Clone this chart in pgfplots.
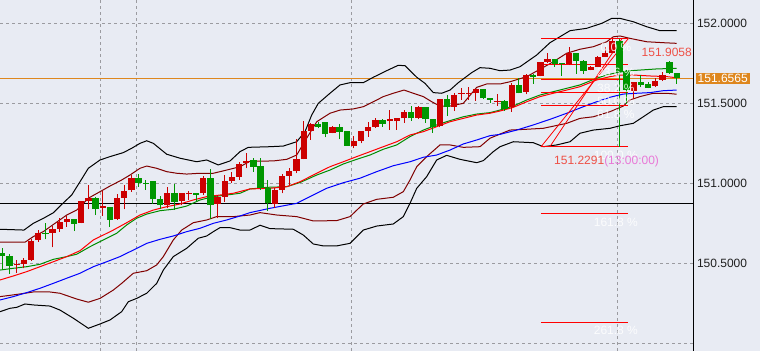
\documentclass[border=0pt]{standalone}
\usepackage{fontspec}
\setmainfont{Liberation Sans}
\usepackage{pgfplots}
\usepackage{pgfplotstable}
\pgfplotsset{compat=1.18}
\definecolor{bg}{RGB}{232,235,243}
\definecolor{cred}{RGB}{204,0,0}
\definecolor{cgreen}{RGB}{0,150,0}
\definecolor{maroon}{RGB}{128,0,0}
\definecolor{magreen}{RGB}{0,140,0}
\definecolor{orng}{RGB}{222,135,30}
\definecolor{gridc}{RGB}{155,155,160}
\definecolor{salmon}{RGB}{238,80,70}
\definecolor{pinkv}{RGB}{232,120,215}
\newcommand\lbl{\fontsize{12bp}{14bp}\selectfont}

% red (rising) candles: x open high low close
\pgfplotstableread{
x o h l c
2 150.4888 150.5219 150.4425 150.4950
3 150.4988 150.5325 150.4700 150.5219
4 150.5219 150.6513 150.5156 150.6406
5 150.6469 150.7075 150.6363 150.6906
7 150.6925 150.7344 150.6013 150.7156
8 150.7156 150.7825 150.6988 150.7613
9 150.7594 150.7969 150.7300 150.7763
11 150.7550 150.8925 150.7513 150.8888
12 150.8925 150.9906 150.8388 150.9075
14 150.8488 150.9531 150.7988 150.8613
16 150.7763 150.9344 150.7719 150.9075
17 150.9113 150.9906 150.8388 150.9550
18 150.9575 151.0531 150.9488 151.0325
23 150.8656 150.9763 150.8450 150.9388
25 150.8925 150.9400 150.8656 150.9388
26 150.9325 150.9531 150.8969 150.9388
28 150.9388 151.0469 150.9281 151.0363
30 150.8700 150.9281 150.7825 150.9175
31 150.9175 151.0531 150.8863 151.0156
32 151.0156 151.0738 151.0050 151.0425
33 151.0425 151.1363 151.0219 151.1200
34 151.1263 151.1888 151.0950 151.1406
38 150.8719 150.9719 150.8469 150.9594
39 150.9594 151.0594 150.9388 151.0469
40 151.0469 151.0950 150.9906 151.0781
41 151.0800 151.2763 151.0638 151.1513
42 151.1531 151.3925 151.1513 151.3281
43 151.3300 151.3763 151.2719 151.3719
46 151.3175 151.3613 151.3138 151.3550
49 151.2363 151.2969 151.2200 151.2675
50 151.2675 151.3300 151.2513 151.3281
51 151.3300 151.3863 151.2925 151.3550
52 151.3550 151.4075 151.3488 151.3969
54 151.3906 151.4594 151.3344 151.4000
55 151.3906 151.4100 151.3344 151.4075
56 151.4063 151.4594 151.3800 151.4469
58 151.4113 151.4844 151.4031 151.4763
61 151.3594 151.5300 151.3513 151.5281
63 151.4800 151.5638 151.4531 151.5531
64 151.5594 151.5969 151.5219 151.5669
65 151.5594 151.6013 151.5219 151.5669
66 151.5625 151.5900 151.5175 151.5888
69 151.5094 151.5575 151.4844 151.5169
71 151.4763 151.6263 151.4488 151.6156
73 151.5738 151.6844 151.5575 151.6750
75 151.6731 151.7613 151.6688 151.7594
76 151.7594 151.8138 151.7513 151.7763
79 151.7450 151.8550 151.7406 151.8138
82 151.7094 151.7320 151.7063 151.7300
83 151.7300 151.7950 151.7281 151.7925
84 151.7925 151.8550 151.7906 151.8138
85 151.8138 151.9000 151.8125 151.8906
88 151.5781 151.6340 151.5281 151.6325
91 151.6094 151.6594 151.6031 151.6425
92 151.6469 151.6988 151.6406 151.6781
}\redtab

% green (falling) candles: x open high low close
\pgfplotstableread{
x o h l c
0 150.5638 150.5969 150.4594 150.5488
1 150.5488 150.5594 150.4344 150.4844
6 150.6925 150.7550 150.6513 150.6863
10 150.7763 150.7780 150.7031 150.7488
13 150.9075 150.9138 150.8031 150.8406
15 150.8550 150.8560 150.7300 150.7719
19 151.0325 151.0594 150.9800 151.0013
20 151.0050 151.0219 150.9594 150.9969
21 151.0156 151.0170 150.8719 150.9013
22 150.9013 150.9219 150.8406 150.8656
24 150.9388 150.9969 150.8344 150.8863
27 150.9388 150.9400 150.8925 150.9300
29 151.0363 151.0888 150.7763 150.8656
35 151.1469 151.1575 151.0738 151.1050
36 151.1094 151.1575 150.9594 150.9700
37 150.9719 151.0219 150.8300 150.8750
44 151.3719 151.3813 151.3438 151.3531
45 151.3844 151.3860 151.2888 151.3094
47 151.3513 151.3719 151.2763 151.3238
48 151.3281 151.3300 151.2350 151.2363
53 151.3969 151.4031 151.3550 151.3719
57 151.4469 151.4844 151.3925 151.4063
59 151.4763 151.4780 151.3800 151.4013
60 151.4013 151.4030 151.3175 151.3550
62 151.5281 151.5531 151.4219 151.4763
67 151.5888 151.5900 151.5250 151.5313
68 151.5325 151.5340 151.5050 151.5219
70 151.5175 151.5200 151.4550 151.4656
72 151.6156 151.6575 151.5625 151.5638
74 151.6750 151.6813 151.6219 151.6656
77 151.7763 151.7780 151.7300 151.7450
78 151.7513 151.7530 151.6719 151.7438
80 151.8138 151.8150 151.6844 151.7675
81 151.7675 151.7690 151.6844 151.7050
86 151.8906 151.9058 151.2291 151.6988
87 151.7031 151.7094 151.4969 151.5844
89 151.6325 151.6781 151.6050 151.6156
90 151.6219 151.6344 151.5938 151.5988
93 151.7594 151.7656 151.6844 151.6906
94 151.6906 151.6925 151.6219 151.6565
}\greentab

\begin{document}
\begin{tikzpicture}
\path[use as bounding box, fill=bg] (0,0) rectangle (760bp,351bp);
\begin{axis}[
  at={(0,0)}, anchor=south west, scale only axis,
  width=693bp, height=351bp,
  xmin=-0.3206, xmax=96.265, ymin=149.953125, ymax=152.146875,
  axis x line*=bottom, axis y line*=right,
  x axis line style={draw=none},
  y axis line style={draw=black, line width=1bp, -},
  xtick={13.66,18.68,48.64,85.71}, xticklabels={},
  ytick={150.5,151,151.5,152},
  extra y ticks={150}, extra y tick labels={},
  extra y tick style={grid=major},
  xmajorgrids, ymajorgrids,
  grid style={gridc, line width=0.9bp, dash pattern=on 3bp off 3bp},
  major tick length=0pt,
  yticklabel style={font=\lbl, color=black!88, anchor=west, xshift=0.5bp},
  /pgf/number format/fixed, /pgf/number format/fixed zerofill,
  /pgf/number format/precision=4, /pgf/number format/1000 sep={},
  /pgf/number format/assume math mode=true,
]
% horizontal price lines
\addplot[orng, line width=1bp] coordinates {(-0.3206,151.6565) (96.265,151.6565)};
\addplot[black, line width=1bp] coordinates {(-0.3206,150.8719) (96.265,150.8719)};

% outer bands
\addplot[black, line width=1bp] coordinates {(-0.32,150.714) (3.02,150.709) (4.32,150.751) (5.71,150.782) (7.11,150.817) (8.04,150.859) (9.67,150.928) (10.83,151.011) (11.99,151.095) (13.62,151.147) (15.01,151.168) (16.86,151.193) (18.03,151.220) (19.19,151.251) (20.13,151.267) (21.05,151.251) (22.91,151.183) (24.77,151.158) (27.09,151.136) (28.49,151.147) (30.10,151.116) (31.74,151.141) (33.13,151.199) (34.29,151.226) (37.31,151.230) (39.16,151.234) (41.03,151.261) (42.19,151.324) (43.12,151.428) (44.04,151.501) (45.67,151.564) (47.07,151.616) (48.46,151.630) (50.31,151.630) (51.71,151.664) (53.57,151.705) (55.19,151.739) (56.13,151.736) (57.76,151.664) (58.91,151.626) (60.07,151.568) (61.24,151.564) (62.40,151.584) (63.55,151.630) (65.42,151.693) (66.58,151.724) (67.97,151.720) (69.37,151.705) (70.76,151.709) (72.15,151.730) (74.48,151.803) (76.33,151.880) (79.12,151.955) (81.45,151.970) (83.54,152.001) (84.94,152.032) (86.09,152.032) (87.94,152.011) (89.80,151.980) (91.66,151.955) (93.99,151.955)};
\addplot[black, line width=1bp] coordinates {(-0.32,150.199) (1.07,150.220) (2.01,150.226) (3.16,150.247) (4.32,150.241) (6.65,150.234) (8.04,150.209) (9.90,150.158) (11.99,150.095) (13.62,150.122) (15.01,150.147) (16.64,150.199) (17.56,150.261) (18.73,150.282) (20.13,150.314) (21.52,150.376) (22.44,150.459) (23.83,150.543) (25.70,150.595) (27.32,150.658) (28.49,150.672) (29.41,150.699) (30.34,150.724) (31.74,150.724) (33.13,150.709) (34.52,150.709) (35.92,150.739) (37.31,150.718) (40.56,150.714) (41.95,150.678) (43.34,150.622) (44.74,150.610) (46.61,150.610) (48.46,150.626) (50.31,150.709) (52.18,150.734) (54.49,150.747) (55.89,150.793) (56.82,150.876) (57.76,150.970) (59.15,151.043) (60.54,151.147) (61.94,151.176) (63.79,151.151) (66.12,151.130) (67.04,151.143) (68.43,151.199) (69.37,151.230) (71.22,151.261) (74.01,151.255) (75.40,151.230) (77.27,151.241) (79.12,151.261) (80.51,151.314) (82.37,151.334) (84.70,151.345) (86.09,151.361) (87.94,151.376) (89.33,151.417) (90.73,151.459) (92.12,151.480) (93.99,151.480)};

% inner bands
\addplot[maroon, line width=1bp] coordinates {(-0.32,150.633) (3.16,150.633) (4.32,150.668) (5.71,150.699) (7.34,150.751) (8.98,150.803) (10.37,150.834) (11.99,150.908) (13.62,150.949) (15.01,150.984) (16.64,151.022) (17.80,151.053) (19.19,151.095) (20.13,151.109) (21.52,151.095) (22.91,151.074) (24.31,151.064) (25.70,151.059) (27.55,151.064) (29.41,151.064) (31.27,151.084) (33.13,151.105) (34.52,151.139) (37.77,151.141) (39.64,151.151) (41.03,151.178) (42.42,151.283) (43.82,151.386) (45.67,151.439) (47.07,151.459) (48.92,151.466) (50.31,151.480) (51.71,151.511) (53.10,151.543) (54.49,151.564) (55.99,151.584) (57.28,151.564) (58.68,151.543) (59.85,151.511) (61.00,151.484) (62.40,151.484) (64.25,151.501) (66.12,151.601) (67.51,151.622) (69.37,151.622) (70.76,151.636) (73.09,151.668) (74.94,151.714) (76.80,151.761) (78.66,151.814) (80.51,151.839) (82.37,151.855) (84.24,151.886) (85.16,151.917) (86.09,151.922) (87.48,151.907) (89.80,151.886) (92.12,151.880) (93.99,151.876)};
\addplot[maroon, line width=1bp] coordinates {(-0.32,150.293) (1.07,150.301) (3.16,150.314) (4.32,150.322) (6.65,150.322) (8.04,150.314) (10.37,150.278) (11.99,150.258) (13.62,150.282) (15.47,150.334) (16.64,150.376) (18.26,150.439) (20.13,150.455) (21.52,150.491) (22.44,150.543) (23.83,150.647) (25.00,150.709) (26.62,150.755) (28.49,150.772) (29.88,150.793) (32.20,150.793) (34.52,150.803) (35.92,150.818) (38.24,150.803) (41.03,150.793) (43.34,150.766) (46.61,150.768) (48.46,150.793) (50.31,150.872) (52.18,150.901) (54.49,150.914) (55.89,150.949) (56.82,151.022) (57.76,151.105) (59.15,151.168) (61.00,151.241) (62.40,151.241) (64.25,151.226) (66.58,151.230) (67.97,151.283) (69.37,151.309) (70.76,151.334) (73.09,151.339) (75.40,151.345) (78.66,151.376) (80.51,151.407) (82.37,151.417) (84.70,151.449) (86.55,151.484) (87.48,151.522) (88.87,151.543) (90.73,151.564) (92.60,151.564) (93.99,151.558)};

% moving averages
\addplot[blue, line width=1bp] coordinates {(-0.32,150.272) (1.53,150.293) (3.40,150.318) (5.25,150.345) (7.11,150.376) (8.98,150.408) (10.83,150.439) (12.68,150.480) (14.55,150.511) (16.40,150.543) (18.26,150.584) (20.13,150.626) (21.98,150.651) (23.83,150.672) (25.70,150.699) (27.55,150.720) (29.41,150.751) (31.27,150.772) (33.13,150.797) (34.52,150.818) (37.31,150.845) (41.03,150.876) (42.89,150.918) (45.21,150.970) (47.53,151.005) (49.85,151.033) (52.18,151.074) (54.49,151.111) (56.82,151.136) (58.68,151.164) (60.54,151.178) (62.40,151.209) (64.25,151.247) (66.12,151.272) (67.97,151.299) (69.37,151.307) (71.69,151.334) (74.01,151.366) (76.33,151.401) (78.66,151.439) (80.98,151.480) (82.84,151.511) (84.70,151.539) (86.55,151.559) (88.41,151.564) (90.27,151.568) (92.12,151.580) (93.99,151.584)};
\addplot[magreen, line width=1bp] coordinates {(-0.32,150.459) (1.53,150.470) (3.40,150.480) (5.25,150.495) (7.11,150.526) (8.98,150.543) (10.37,150.558) (12.22,150.605) (14.08,150.647) (15.94,150.689) (17.34,150.741) (18.73,150.783) (20.13,150.809) (21.98,150.830) (23.83,150.839) (25.70,150.859) (27.55,150.897) (29.41,150.918) (31.27,150.928) (33.13,150.939) (34.52,150.966) (36.85,150.976) (39.64,150.980) (41.49,151.006) (43.82,151.053) (45.67,151.084) (47.53,151.122) (49.39,151.151) (51.25,151.178) (53.10,151.214) (54.97,151.241) (56.82,151.293) (58.68,151.334) (60.54,151.366) (62.40,151.393) (64.25,151.417) (66.12,151.434) (67.97,151.443) (69.37,151.459) (71.22,151.484) (73.09,151.522) (74.94,151.553) (76.80,151.574) (78.66,151.595) (80.51,151.616) (82.84,151.658) (84.24,151.678) (85.63,151.693) (87.02,151.703) (88.87,151.709) (91.20,151.716) (93.99,151.720)};
\addplot[red, line width=1bp] coordinates {(-0.32,150.397) (1.53,150.422) (3.40,150.449) (5.25,150.480) (7.11,150.511) (8.98,150.543) (10.83,150.580) (12.68,150.647) (14.08,150.678) (15.47,150.709) (17.34,150.755) (19.19,150.803) (21.05,150.834) (22.91,150.855) (24.77,150.872) (26.62,150.897) (28.49,150.918) (30.34,150.928) (32.20,150.939) (34.52,150.966) (37.31,150.970) (39.64,150.980) (41.49,151.011) (43.82,151.064) (45.67,151.105) (47.53,151.136) (49.39,151.168) (51.25,151.199) (53.10,151.230) (54.97,151.261) (56.82,151.303) (58.68,151.324) (60.54,151.355) (62.40,151.386) (64.25,151.407) (66.12,151.428) (67.97,151.439) (69.37,151.453) (71.22,151.476) (73.09,151.511) (74.94,151.543) (76.80,151.564) (78.66,151.584) (80.51,151.605) (82.84,151.647) (84.70,151.668) (86.09,151.678) (87.94,151.678) (90.27,151.672) (92.60,151.668) (93.99,151.661)};

% Fibonacci retracement lines
\addplot[red, line width=1bp] coordinates {(75.07,151.9058) (87.25,151.9058)};
\addplot[red, line width=1bp] coordinates {(75.07,151.7461) (87.25,151.7461)};
\addplot[red, line width=1bp] coordinates {(75.07,151.6473) (87.25,151.6473)};
\addplot[red, line width=1bp] coordinates {(75.07,151.5675) (87.25,151.5675)};
\addplot[red, line width=1bp] coordinates {(75.07,151.4876) (87.25,151.4876)};
\addplot[red, line width=1bp] coordinates {(75.07,151.2291) (87.25,151.2291)};
\addplot[red, line width=1bp] coordinates {(75.07,150.8109) (87.25,150.8109)};
\addplot[red, line width=1bp] coordinates {(75.07,150.1342) (87.25,150.1342)};
\addplot[red, line width=0.8bp] coordinates {(75.07,151.2291) (87.25,151.9058)};
\addplot[red, line width=0.8bp] coordinates {(76.30,151.2291) (86.37,151.9058)};

% candles: wicks
\addplot[draw=none, mark=none, forget plot, error bars/.cd, y dir=plus, y explicit, error mark=none,
  error bar style={draw=cred, line width=1bp, solid}]
  table[x=x, y=l, y error expr=\thisrow{h}-\thisrow{l}] {\redtab};
\addplot[draw=none, mark=none, forget plot, error bars/.cd, y dir=plus, y explicit, error mark=none,
  error bar style={draw=cgreen, line width=1bp, solid}]
  table[x=x, y=l, y error expr=\thisrow{h}-\thisrow{l}] {\greentab};
% candles: bodies
\addplot[draw=none, mark=none, forget plot, error bars/.cd, y dir=plus, y explicit, error mark=none,
  error bar style={draw=cred, line width=6.3bp, solid}]
  table[x=x, y=o, y error expr=\thisrow{c}-\thisrow{o}] {\redtab};
\addplot[draw=none, mark=none, forget plot, error bars/.cd, y dir=plus, y explicit, error mark=none,
  error bar style={draw=cgreen, line width=6.3bp, solid}]
  table[x=x, y=c, y error expr=\thisrow{o}-\thisrow{c}] {\greentab};

% fib labels
\node[font=\lbl, text=white, text opacity=0.85, inner sep=0pt, yshift=-8.5bp] at (axis cs:85.51,151.9058) {0.0 \%};
\node[font=\lbl, text=white, text opacity=0.85, inner sep=0pt, yshift=-8.5bp] at (axis cs:85.51,151.7461) {23.6 \%};
\node[font=\lbl, text=white, text opacity=0.85, inner sep=0pt, yshift=-8.5bp] at (axis cs:85.51,151.6473) {38.2 \%};
\node[font=\lbl, text=white, text opacity=0.85, inner sep=0pt, yshift=-8.5bp] at (axis cs:85.51,151.5675) {50.0 \%};
\node[font=\lbl, text=white, text opacity=0.85, inner sep=0pt, yshift=-8.5bp] at (axis cs:85.51,151.4876) {61.8 \%};
\node[font=\lbl, text=white, text opacity=0.85, inner sep=0pt, yshift=-8.5bp] at (axis cs:85.51,151.2291) {100.0 \%};
\node[font=\lbl, text=white, text opacity=0.85, inner sep=0pt, yshift=-8.5bp] at (axis cs:85.51,150.8109) {161.8 \%};
\node[font=\lbl, text=white, text opacity=0.85, inner sep=0pt, yshift=-8.5bp] at (axis cs:85.51,150.1342) {261.8 \%};
\node[font=\lbl, text=salmon, anchor=east, inner sep=0pt] at (axis cs:96.12,151.8175) {151.9058};
\node[font=\lbl, anchor=west, inner sep=0pt] at (axis cs:76.89,151.1406) {\textcolor{salmon}{151.2291}\textcolor{pinkv}{(13:00:00)}};

\coordinate (pl) at (axis cs:96.265,151.6565);
\end{axis}
\node[fill=orng, text=white, anchor=west, inner xsep=2bp, inner ysep=1.5bp, font=\lbl] at ([xshift=2.5bp]pl) {151.6565};
\end{tikzpicture}
\end{document}
